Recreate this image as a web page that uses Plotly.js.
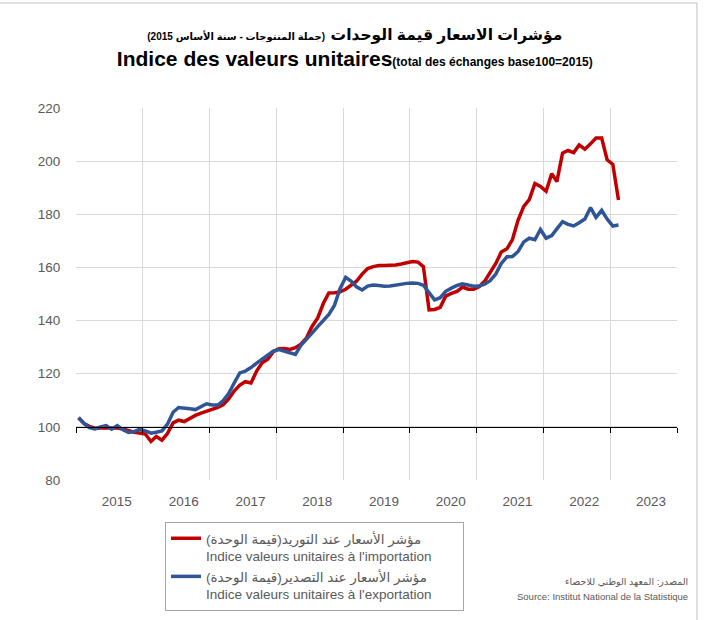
<!DOCTYPE html>
<html>
<head>
<meta charset="utf-8">
<script src="https://cdn.plot.ly/plotly-3.0.1.min.js"></script>
<style>html,body{margin:0;padding:0;background:#fff;}</style>
</head>
<body>
<div id="chart" style="width:704px;height:620px;"></div>
<script>
// Monthly series starting January 2015 (base 100 = 2015)
const startYear = 2015;
const importIdx = [
  103.3,101.2,100.2,99.5,99.6,99.7,99.7,99.6,99.2,98.5,98.0,97.7,
  97.3,94.5,96.4,95.0,97.5,101.5,102.5,102.0,103.3,104.3,105.2,105.9,
  106.5,107.3,108.3,110.5,113.5,115.7,117.0,116.5,121.0,124.1,125.5,128.3,
  129.4,129.5,129.1,129.8,131.1,133.5,137.8,141.0,146.5,150.4,150.5,150.8,
  151.8,153.3,154.8,157.5,159.6,160.3,160.7,160.7,160.7,160.9,161.3,161.7,
  162.2,162.0,160.3,144.0,144.2,145.0,149.2,150.2,151.0,152.6,151.8,151.8,
  152.8,155.0,158.0,161.5,165.8,167.0,170.5,177.8,183.0,185.5,191.6,190.5,
  188.7,195.3,192.3,203.0,204.0,203.2,206.1,204.5,206.5,208.7,208.7,200.5,
  198.8,185.4
];
const exportIdx = [
  103.5,101.2,99.7,99.2,100.0,100.5,99.1,100.5,98.9,97.9,98.2,99.1,
  98.5,97.6,98.0,98.5,101.0,105.5,107.3,107.2,106.8,106.5,107.8,108.7,
  108.2,108.2,109.8,112.5,116.5,120.3,121.0,122.3,124.0,125.5,127.0,128.5,
  129.1,128.5,127.8,127.3,130.7,132.8,135.3,137.7,139.8,142.3,145.8,152.0,
  156.3,154.8,152.7,151.5,153.0,153.4,153.2,152.9,153.0,153.4,153.7,154.0,
  154.1,154.0,153.3,150.5,147.8,148.6,151.0,152.2,153.2,153.8,153.2,152.9,
  153.0,153.8,155.0,157.5,161.5,164.0,164.1,166.0,169.6,171.0,170.4,174.3,
  171.0,172.0,174.5,177.2,176.2,175.6,176.8,178.2,182.5,178.8,181.5,178.2,
  175.6,176.0
];
const yearLabels = ['2015','2016','2017','2018','2019','2020','2021','2022','2023'];
const importName = 'مؤشر الأسعار عند التوريد(قيمة الوحدة)\u200F<br>Indice valeurs unitaires à l\'importation';
const exportName = 'مؤشر الأسعار عند التصدير(قيمة الوحدة)\u200F<br>Indice valeurs unitaires à l\'exportation\u00A0\u00A0\u00A0\u00A0\u00A0\u00A0\u00A0';
const sourceAr = 'المصدر: المعهد الوطني للاحصاء';
const sourceFr = 'Source: Institut National de la Statistique';

// month categories (mid-month dates)
const months = importIdx.map((_, i) => {
  const y = startYear + Math.floor(i / 12);
  const m = (i % 12) + 1;
  return y + '-' + String(m).padStart(2, '0') + '-15';
});
const yearStarts = [];
for (let y = startYear; y <= startYear + yearLabels.length; y++) yearStarts.push(y + '-01-01');
const labelPos = yearLabels.map(y => y + '-08-12');
const xRange = [startYear + '-01-01', (startYear + yearLabels.length) + '-01-01'];

const grey = '#595959';
const baseFont = 'Liberation Sans, Arial, DejaVu Sans, sans-serif';

const traces = [
  {x: months, y: importIdx, type: 'scatter', mode: 'lines', name: importName,
   line: {color: '#C00000', width: 3.5}},
  {x: months, y: exportIdx, type: 'scatter', mode: 'lines', name: exportName,
   line: {color: '#2F5597', width: 3.5}},
  // carrier for the year-label axis (draws nothing)
  {x: labelPos, y: labelPos.map(() => null), xaxis: 'x2', type: 'scatter', mode: 'lines',
   showlegend: false, hoverinfo: 'skip', line: {width: 0}}
];

const layout = {
  width: 704, height: 620, autosize: false,
  margin: {l: 76, r: 27, t: 108, b: 140, autoexpand: false},
  paper_bgcolor: '#fff', plot_bgcolor: '#fff',
  font: {family: baseFont, color: grey, size: 13},
  title: {
    text: '<span style="font-size:15.5px"><b>مؤشرات الاسعار قيمة الوحدات</b></span> <span style="font-size:10px"><b>(جملة المنتوجات - سنة الأساس 2015)</b></span>\u200F<br><span style="font-size:21px"><b>Indice des valeurs unitaires</b></span><span style="font-size:12px"><b>(total des échanges base100=2015)</b></span>',
    font: {family: baseFont, size: 20, color: '#000'},
    xref: 'container', yref: 'container', x: 0.504, xanchor: 'center',
    y: 0.935, yanchor: 'top'
  },
  xaxis: {
    type: 'date', range: xRange, anchor: 'free', position: 20 / 140,
    tickmode: 'array', tickvals: yearStarts, showticklabels: false,
    showgrid: true, gridcolor: '#D9D9D9', gridwidth: 1,
    showline: true, linecolor: '#000', linewidth: 1,
    ticks: 'outside', ticklen: 5, tickcolor: '#000', tickwidth: 1, zeroline: false,
    fixedrange: true
  },
  xaxis2: {
    type: 'date', range: xRange, overlaying: 'x', anchor: 'y', side: 'bottom',
    showgrid: false, zeroline: false, showline: false,
    tickmode: 'array', tickvals: labelPos, ticktext: yearLabels,
    ticks: 'outside', ticklen: 9, tickcolor: 'rgba(0,0,0,0)',
    tickfont: {size: 13.5, color: grey}, fixedrange: true
  },
  yaxis: {
    range: [80, 220], dtick: 20, tick0: 80, showgrid: true, gridcolor: '#D9D9D9', gridwidth: 1,
    zeroline: false, showline: false, ticks: 'outside', ticklen: 12, tickcolor: 'rgba(0,0,0,0)',
    tickfont: {size: 13.5, color: grey}, fixedrange: true
  },
  showlegend: true,
  legend: {
    xref: 'container', yref: 'container',
    x: 165 / 704, xanchor: 'left', y: 1 - 522 / 620, yanchor: 'top',
    bordercolor: '#A6A6A6', borderwidth: 1, bgcolor: '#fff',
    font: {size: 13.5, color: grey, family: baseFont}, valign: 'top', traceorder: 'normal'
  },
  annotations: [
    {text: sourceAr, xref: 'paper', yref: 'paper', x: 1.0216, y: -0.274, xanchor: 'right', yanchor: 'middle',
     showarrow: false, font: {size: 9.5, color: grey}},
    {text: sourceFr, xref: 'paper', yref: 'paper', x: 1.0216, y: -0.3145, xanchor: 'right', yanchor: 'middle',
     showarrow: false, font: {size: 9.5, color: grey}}
  ],
  shapes: [
    {type: 'line', xref: 'paper', yref: 'paper', x0: -0.1265, x1: 1.0333, y0: 1.2823, y1: 1.2823,
     line: {color: '#BFBFBF', width: 1}},
    {type: 'line', xref: 'paper', yref: 'paper', x0: 1.0333, x1: 1.0333, y0: 1.2823, y1: -0.3763,
     line: {color: '#BFBFBF', width: 1}}
  ]
};

Plotly.newPlot('chart', traces, layout, {displayModeBar: false, staticPlot: true});
</script>
</body>
</html>
